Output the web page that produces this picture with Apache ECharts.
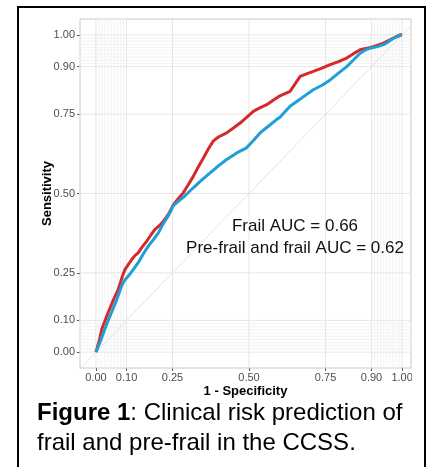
<!DOCTYPE html>
<html><head><meta charset="utf-8">
<script src="https://cdn.jsdelivr.net/npm/echarts@6/dist/echarts.min.js"></script>
<style>html,body{margin:0;padding:0;background:#fff}#c{width:429px;height:467px}</style>
</head><body><div id="c"></div>
<script>
// Tick positions (plotROC style)
const majorBreaks = [0, 0.1, 0.25, 0.5, 0.75, 0.9, 1];
const minorBreaks = [0.01,0.02,0.03,0.04,0.05,0.06,0.07,0.08,0.09,0.91,0.92,0.93,0.94,0.95,0.96,0.97,0.98,0.99];

// ROC curves: [1 - specificity, sensitivity]
const frailROC = [[0,0],[0.004,0.001],[0.012,0.04],[0.019,0.072],[0.03,0.10],[0.040,0.125],[0.055,0.16],[0.073,0.198],[0.085,0.235],[0.095,0.261],[0.105,0.275],[0.117,0.292],[0.128,0.305],[0.138,0.313],[0.150,0.33],[0.166,0.350],[0.180,0.37],[0.193,0.387],[0.209,0.40],[0.225,0.418],[0.240,0.44],[0.253,0.465],[0.270,0.485],[0.285,0.502],[0.300,0.525],[0.318,0.554],[0.335,0.585],[0.351,0.612],[0.367,0.640],[0.383,0.665],[0.400,0.678],[0.427,0.691],[0.450,0.707],[0.471,0.722],[0.492,0.740],[0.514,0.759],[0.535,0.770],[0.558,0.780],[0.580,0.795],[0.601,0.808],[0.634,0.822],[0.650,0.845],[0.667,0.869],[0.690,0.878],[0.710,0.885],[0.740,0.896],[0.765,0.906],[0.790,0.915],[0.819,0.927],[0.840,0.940],[0.863,0.953],[0.885,0.958],[0.906,0.963],[0.939,0.974],[0.972,0.990],[0.993,1.0],[1,1]];
const preFrailROC = [[0,0],[0.004,0.003],[0.015,0.035],[0.029,0.072],[0.040,0.10],[0.051,0.125],[0.068,0.165],[0.084,0.209],[0.095,0.228],[0.106,0.240],[0.122,0.26],[0.138,0.282],[0.155,0.31],[0.171,0.334],[0.188,0.355],[0.204,0.376],[0.220,0.405],[0.236,0.429],[0.253,0.462],[0.269,0.475],[0.290,0.492],[0.318,0.518],[0.345,0.542],[0.373,0.565],[0.400,0.587],[0.427,0.607],[0.460,0.628],[0.492,0.644],[0.515,0.668],[0.536,0.691],[0.563,0.712],[0.590,0.733],[0.601,0.740],[0.634,0.775],[0.656,0.790],[0.685,0.810],[0.710,0.827],[0.740,0.842],[0.765,0.858],[0.790,0.878],[0.819,0.900],[0.840,0.920],[0.863,0.942],[0.880,0.952],[0.895,0.958],[0.920,0.963],[0.939,0.969],[0.955,0.978],[0.972,0.990],[0.999,1.0]];
const diagonal = [[-0.2,-0.2],[1.2,1.2]];

const annotations = ['Frail AUC = 0.66', 'Pre-frail and frail AUC = 0.62'];
const xTitle = '1 - Specificity';
const yTitle = 'Sensitivity';

const chart = echarts.init(document.getElementById('c'), null, {renderer:'canvas'});
const fmt = v => Number(v).toFixed(2);
const font = 'Liberation Sans, Arial, sans-serif';

// grid lines built from break arrays, drawn as broken line series under the curves
function gridData(vals){
  const d = [];
  vals.forEach(v => { d.push([v,-0.2],[v,1.2],['-','-']); });
  vals.forEach(v => { d.push([-0.2,v],[1.2,v],['-','-']); });
  return d;
}
const gridSeries = (vals, color, z) => ({
  type:'line', data:gridData(vals), showSymbol:false, silent:true, z:z, clip:true, connectNulls:false,
  lineStyle:{color:color, width:1}, emphasis:{disabled:true}
});

chart.setOption({
  animation:false,
  backgroundColor:'#fff',
  grid:{left:80, right:18, top:19, bottom:99, show:true, borderColor:'#c8c8c8', borderWidth:1, containLabel:false},
  xAxis:{type:'value', min:-0.052, max:1.029,
    name:xTitle, nameLocation:'middle', nameGap:17, nameMoveOverlap:false,
    nameTextStyle:{fontFamily:font, fontWeight:'bold', fontSize:13, color:'#000'},
    axisLine:{show:false, onZero:false}, splitLine:{show:false},
    axisTick:{show:true, customValues:majorBreaks, length:3, lineStyle:{color:'#555'}},
    axisLabel:{customValues:majorBreaks, formatter:fmt, color:'#4d4d4d', fontSize:11, fontFamily:font, margin:4}},
  yAxis:{type:'value', min:-0.05, max:1.05,
    name:yTitle, nameLocation:'middle', nameGap:26, nameRotate:90, nameMoveOverlap:false,
    nameTextStyle:{fontFamily:font, fontWeight:'bold', fontSize:13, color:'#000'},
    axisLine:{show:false, onZero:false}, splitLine:{show:false},
    axisTick:{show:true, customValues:majorBreaks, length:3, lineStyle:{color:'#555'}},
    axisLabel:{customValues:majorBreaks, formatter:fmt, color:'#4d4d4d', fontSize:11, fontFamily:font, margin:5}},
  series:[
    gridSeries(minorBreaks, '#f3f3f3', 1),
    gridSeries(majorBreaks, '#e6e6e6', 2),
    {type:'line', data:diagonal, showSymbol:false, silent:true, z:3, clip:true,
     lineStyle:{color:'#e3e3e3', width:1}},
    {name:'Frail', type:'line', data:frailROC, showSymbol:false, z:4, clip:true,
     lineStyle:{color:'#d42a2c', width:3}},
    {name:'Pre-frail and frail', type:'line', data:preFrailROC, showSymbol:false, z:5, clip:true,
     lineStyle:{color:'#1ea0d6', width:3}}
  ],
  graphic:[
    {type:'text', x:295, y:226, z:10, style:{text:annotations[0], font:'17px '+font, fill:'#111', align:'center', verticalAlign:'middle'}},
    {type:'text', x:295, y:248, z:10, style:{text:annotations[1], font:'17px '+font, fill:'#111', align:'center', verticalAlign:'middle'}},
    {type:'rect', shape:{x:412, y:370, width:12, height:16}, style:{fill:'#fff'}, z:20},
    {type:'text', x:37, y:413, z:10, style:{
      text:'{b|Figure 1}: Clinical risk prediction of', font:'24px '+font, fill:'#000', verticalAlign:'middle',
      rich:{b:{fontWeight:'bold', fontSize:24, fontFamily:font, fill:'#000'}}}},
    {type:'text', x:37, y:443, z:10, style:{text:'frail and pre-frail in the CCSS.', font:'24px '+font, fill:'#000', verticalAlign:'middle'}},
    {type:'rect', shape:{x:18, y:7, width:407, height:470}, style:{fill:null, stroke:'#000', lineWidth:2}, z:30}
  ]
});
</script></body></html>
